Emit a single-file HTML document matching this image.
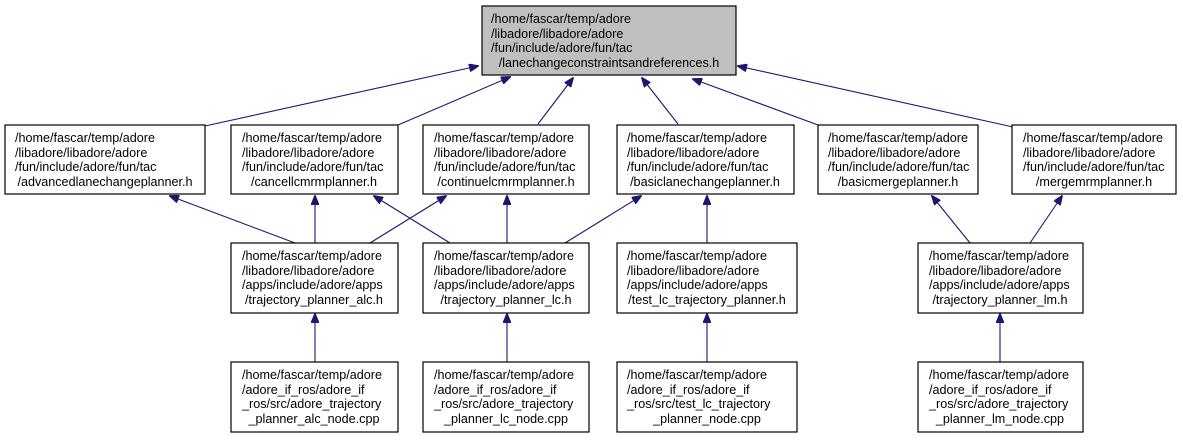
<!DOCTYPE html>
<html><head><meta charset="utf-8"><style>
html,body{margin:0;padding:0;background:#fff;}
svg text{font-family:"Liberation Sans",Arial,sans-serif;font-size:12.6px;fill:#000;}
</style></head><body>
<svg width="1183" height="437" viewBox="0 0 1183 437" xmlns="http://www.w3.org/2000/svg">
<defs><marker id="a" markerWidth="10" markerHeight="8" refX="9" refY="4" orient="auto" markerUnits="userSpaceOnUse"><path d="M0,0 L10,4 L0,8 z" fill="#191970" stroke="#191970"/></marker></defs>
<g stroke="#191970" stroke-width="1.1" fill="none" marker-end="url(#a)">
<line x1="205" y1="126" x2="478" y2="66"/>
<line x1="398" y1="125" x2="510" y2="77"/>
<line x1="538" y1="124" x2="573" y2="78"/>
<line x1="678" y1="124" x2="642" y2="78"/>
<line x1="818" y1="125" x2="693" y2="79"/>
<line x1="1013" y1="127" x2="738" y2="66"/>
<line x1="295" y1="243" x2="170" y2="196"/>
<line x1="315" y1="243" x2="315" y2="196"/>
<line x1="370" y1="243" x2="446" y2="196"/>
<line x1="450" y1="243" x2="374" y2="196"/>
<line x1="507" y1="243" x2="507" y2="196"/>
<line x1="565" y1="243" x2="641" y2="196"/>
<line x1="707" y1="243" x2="707" y2="196"/>
<line x1="970" y1="243" x2="932" y2="196"/>
<line x1="1030" y1="243" x2="1062" y2="196"/>
<line x1="315" y1="362" x2="315" y2="314"/>
<line x1="507" y1="362" x2="507" y2="314"/>
<line x1="707" y1="362" x2="707" y2="314"/>
<line x1="1000" y1="362" x2="1000" y2="314"/>
</g>
<g stroke="#000" stroke-width="1.2">
<rect x="482" y="6" width="254" height="69" fill="#bfbfbf"/>
<rect x="5" y="125" width="200" height="69" fill="#fff"/>
<rect x="231" y="125" width="167" height="69" fill="#fff"/>
<rect x="423" y="125" width="166" height="69" fill="#fff"/>
<rect x="617" y="125" width="177" height="69" fill="#fff"/>
<rect x="818" y="125" width="160" height="69" fill="#fff"/>
<rect x="1012" y="125" width="164" height="69" fill="#fff"/>
<rect x="231" y="243" width="167" height="70" fill="#fff"/>
<rect x="423" y="243" width="166" height="70" fill="#fff"/>
<rect x="617" y="243" width="180" height="70" fill="#fff"/>
<rect x="918" y="243" width="165" height="70" fill="#fff"/>
<rect x="231" y="362" width="167" height="70" fill="#fff"/>
<rect x="423" y="362" width="166" height="70" fill="#fff"/>
<rect x="617" y="362" width="180" height="70" fill="#fff"/>
<rect x="918" y="362" width="165" height="70" fill="#fff"/>
</g>
<text x="491" y="23">/home/fascar/temp/adore</text><text x="491" y="38">/libadore/libadore/adore</text><text x="491" y="52">/fun/include/adore/fun/tac</text><text x="609" y="67" text-anchor="middle">/lanechangeconstraintsandreferences.h</text>

<text x="15" y="142">/home/fascar/temp/adore</text><text x="15" y="157">/libadore/libadore/adore</text><text x="15" y="171">/fun/include/adore/fun/tac</text><text x="105" y="186" text-anchor="middle">/advancedlanechangeplanner.h</text>
<text x="242" y="142">/home/fascar/temp/adore</text><text x="242" y="157">/libadore/libadore/adore</text><text x="242" y="171">/fun/include/adore/fun/tac</text><text x="314" y="186" text-anchor="middle">/cancellcmrmplanner.h</text>
<text x="434" y="142">/home/fascar/temp/adore</text><text x="434" y="157">/libadore/libadore/adore</text><text x="434" y="171">/fun/include/adore/fun/tac</text><text x="506" y="186" text-anchor="middle">/continuelcmrmplanner.h</text>
<text x="627" y="142">/home/fascar/temp/adore</text><text x="627" y="157">/libadore/libadore/adore</text><text x="627" y="171">/fun/include/adore/fun/tac</text><text x="705" y="186" text-anchor="middle">/basiclanechangeplanner.h</text>
<text x="828" y="142">/home/fascar/temp/adore</text><text x="828" y="157">/libadore/libadore/adore</text><text x="828" y="171">/fun/include/adore/fun/tac</text><text x="898" y="186" text-anchor="middle">/basicmergeplanner.h</text>
<text x="1023" y="142">/home/fascar/temp/adore</text><text x="1023" y="157">/libadore/libadore/adore</text><text x="1023" y="171">/fun/include/adore/fun/tac</text><text x="1094" y="186" text-anchor="middle">/mergemrmplanner.h</text>

<text x="242" y="260">/home/fascar/temp/adore</text><text x="242" y="275">/libadore/libadore/adore</text><text x="242" y="289">/apps/include/adore/apps</text><text x="314" y="304" text-anchor="middle">/trajectory_planner_alc.h</text>
<text x="434" y="260">/home/fascar/temp/adore</text><text x="434" y="275">/libadore/libadore/adore</text><text x="434" y="289">/apps/include/adore/apps</text><text x="506" y="304" text-anchor="middle">/trajectory_planner_lc.h</text>
<text x="627" y="260">/home/fascar/temp/adore</text><text x="627" y="275">/libadore/libadore/adore</text><text x="627" y="289">/apps/include/adore/apps</text><text x="707" y="304" text-anchor="middle">/test_lc_trajectory_planner.h</text>
<text x="929" y="260">/home/fascar/temp/adore</text><text x="929" y="275">/libadore/libadore/adore</text><text x="929" y="289">/apps/include/adore/apps</text><text x="1000" y="304" text-anchor="middle">/trajectory_planner_lm.h</text>

<text x="242" y="379">/home/fascar/temp/adore</text><text x="242" y="394">/adore_if_ros/adore_if</text><text x="242" y="408">_ros/src/adore_trajectory</text><text x="314" y="423" text-anchor="middle">_planner_alc_node.cpp</text>
<text x="434" y="379">/home/fascar/temp/adore</text><text x="434" y="394">/adore_if_ros/adore_if</text><text x="434" y="408">_ros/src/adore_trajectory</text><text x="506" y="423" text-anchor="middle">_planner_lc_node.cpp</text>
<text x="627" y="379">/home/fascar/temp/adore</text><text x="627" y="394">/adore_if_ros/adore_if</text><text x="627" y="408">_ros/src/test_lc_trajectory</text><text x="707" y="423" text-anchor="middle">_planner_node.cpp</text>
<text x="929" y="379">/home/fascar/temp/adore</text><text x="929" y="394">/adore_if_ros/adore_if</text><text x="929" y="408">_ros/src/adore_trajectory</text><text x="1000" y="423" text-anchor="middle">_planner_lm_node.cpp</text>
</svg>
</body></html>
